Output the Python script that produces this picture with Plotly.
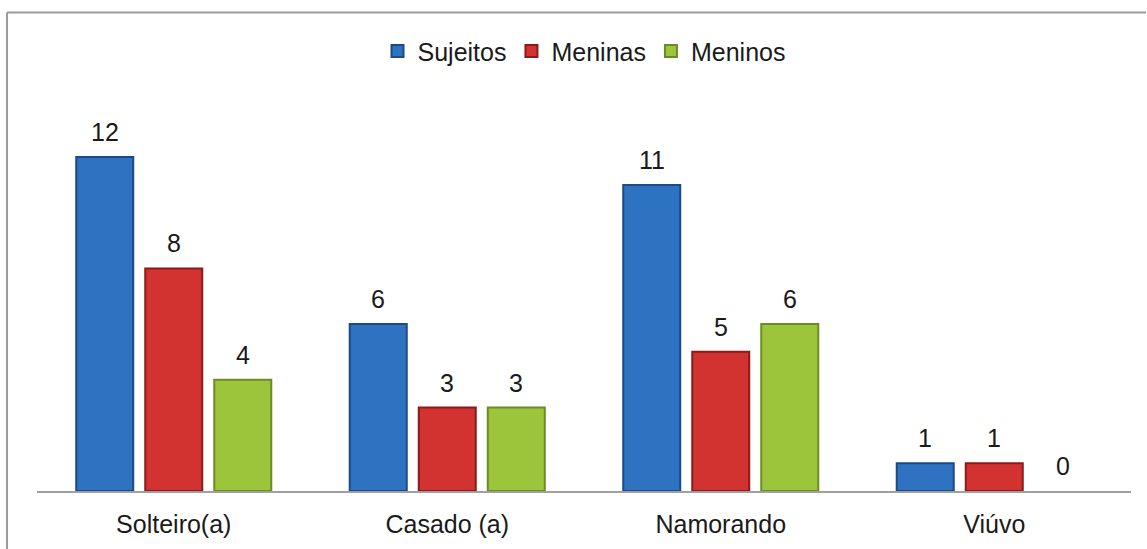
import plotly.graph_objects as go

categories = ["Solteiro(a)", "Casado (a)", "Namorando", "Viúvo"]
sujeitos = [12, 6, 11, 1]
meninas = [8, 3, 5, 1]
meninos = [4, 3, 6, 0]

series = [
    ("Sujeitos", sujeitos, "#2E72C2", "#1D4A85"),
    ("Meninas", meninas, "#D23330", "#8A1B1A"),
    ("Meninos", meninos, "#9CC53C", "#6B8C24"),
]

FONT = "Liberation Sans, Arial, sans-serif"
FS = 25
fig = go.Figure()
for name, vals, col, edge in series:
    fig.add_trace(go.Bar(
        x=categories, y=vals, name=name,
        marker=dict(color=col, line=dict(color=edge, width=[2 if v > 0 else 0 for v in vals])),
    ))

# value labels
shifts = [-69, 0, 69]
for (name, vals, col, edge), xs in zip(series, shifts):
    for c, v in zip(categories, vals):
        fig.add_annotation(x=c, y=v, text=str(v), showarrow=False,
                           xshift=xs, yshift=9, yanchor="bottom",
                           font=dict(family=FONT, size=FS, color="#1a1a1a"))

# outer frame
fig.add_shape(type="line", xref="paper", yref="paper", x0=-0.0274, x1=1.0137, y0=1.164, y1=1.164,
              line=dict(color="#9a9a9a", width=2))
fig.add_shape(type="line", xref="paper", yref="paper", x0=-0.0274, x1=-0.0274, y0=1.164, y1=-0.2,
              line=dict(color="#9a9a9a", width=2))

fig.update_layout(
    width=1147, height=549,
    margin=dict(l=37, r=16, t=80, b=58, autoexpand=False),
    paper_bgcolor="white", plot_bgcolor="white",
    barmode="group", bargap=0.243, bargroupgap=0.174,
    font=dict(family=FONT, size=FS, color="#1a1a1a"),
    legend=dict(orientation="h", x=0.5, xanchor="center", yref="paper", y=1.07, yanchor="middle",
                font=dict(size=FS), itemwidth=30),
    xaxis=dict(showline=True, linecolor="#a0a0a0", linewidth=2, ticks="", showgrid=False,
               tickfont=dict(size=FS), ticklabelstandoff=10),
    yaxis=dict(range=[0, 14.77], visible=False, showgrid=False, zeroline=False),
    showlegend=True,
)

fig.write_html("out.html", config={"displayModeBar": False},
               post_script="document.body.style.margin='0';")
